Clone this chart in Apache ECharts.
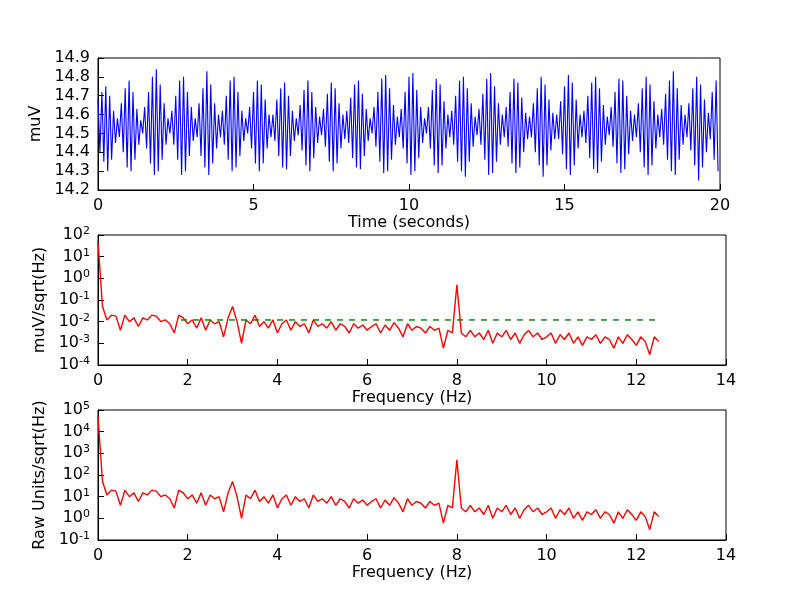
<!DOCTYPE html>
<html><head><meta charset="utf-8">
<script src="https://cdn.jsdelivr.net/npm/echarts@6/dist/echarts.min.js"></script>
<style>html,body{margin:0;background:#fff}#c{width:800px;height:600px}</style>
</head><body><div id="c"></div>
<script>
// Time series: samples every 1/16 s (alternating crest/trough), 20 s
const timeStep = 1/16;
const signal = [
14.68,14.40,14.72,14.35,14.75,14.30,14.70,14.36,14.62,14.45,14.58,14.48,14.66,14.40,14.74,14.32,
14.78,14.30,14.72,14.36,14.63,14.44,14.57,14.50,14.64,14.42,14.72,14.34,14.80,14.28,14.84,14.30,
14.76,14.36,14.66,14.44,14.58,14.50,14.62,14.44,14.70,14.36,14.78,14.28,14.80,14.30,14.72,14.38,
14.64,14.46,14.58,14.48,14.66,14.38,14.74,14.32,14.83,14.28,14.76,14.34,14.66,14.42,14.60,14.48,
14.62,14.44,14.70,14.36,14.78,14.30,14.80,14.32,14.72,14.38,14.62,14.46,14.58,14.50,14.64,14.42,
14.72,14.34,14.78,14.30,14.76,14.34,14.68,14.42,14.60,14.48,14.60,14.46,14.68,14.38,14.74,14.32,
14.77,14.31,14.70,14.38,14.62,14.46,14.58,14.49,14.65,14.41,14.73,14.33,14.78,14.30,14.72,14.37,
14.64,14.45,14.59,14.49,14.63,14.43,14.71,14.35,14.77,14.30,14.74,14.34,14.66,14.42,14.60,14.47,
14.62,14.45,14.69,14.37,14.76,14.32,14.78,14.31,14.71,14.38,14.63,14.46,14.58,14.50,14.64,14.43,
14.72,14.35,14.79,14.29,14.81,14.30,14.74,14.36,14.65,14.44,14.59,14.48,14.63,14.42,14.72,14.34,
14.80,14.28,14.82,14.30,14.73,14.37,14.64,14.45,14.58,14.50,14.64,14.42,14.73,14.33,14.79,14.29,
14.76,14.33,14.67,14.42,14.60,14.48,14.62,14.44,14.70,14.35,14.78,14.30,14.80,14.27,14.74,14.35,
14.66,14.43,14.59,14.49,14.63,14.44,14.71,14.36,14.79,14.28,14.82,14.29,14.75,14.35,14.66,14.44,
14.60,14.48,14.64,14.43,14.72,14.34,14.79,14.29,14.77,14.32,14.69,14.40,14.61,14.47,14.59,14.48,
14.66,14.40,14.74,14.33,14.80,14.27,14.76,14.33,14.68,14.41,14.61,14.47,14.60,14.47,14.67,14.39,
14.75,14.31,14.81,14.28,14.77,14.33,14.68,14.42,14.60,14.48,14.62,14.45,14.70,14.37,14.77,14.31,
14.80,14.29,14.74,14.35,14.65,14.44,14.59,14.49,14.64,14.43,14.72,14.34,14.79,14.29,14.78,14.31,
14.70,14.39,14.62,14.46,14.60,14.48,14.66,14.40,14.74,14.32,14.80,14.28,14.76,14.33,14.67,14.42,
14.60,14.48,14.63,14.44,14.71,14.36,14.78,14.30,14.83,14.28,14.74,14.36,14.65,14.44,14.60,14.48,
14.66,14.41,14.74,14.33,14.80,14.25,14.76,14.32,14.68,14.40,14.61,14.47,14.72,14.36,14.78,14.30
];
// Spectrum: frequencies 0..12.5 step 0.1
const freqStep = 0.1;
const spectrum = [
50,0.05,0.012,0.02,0.018,0.004,0.02,0.01,0.015,0.006,
0.015,0.012,0.02,0.018,0.01,0.012,0.008,0.003,0.02,0.015,
0.008,0.012,0.005,0.015,0.004,0.012,0.008,0.01,0.002,0.015,
0.05,0.01,0.001,0.012,0.008,0.02,0.006,0.01,0.005,0.012,
0.003,0.008,0.012,0.004,0.01,0.006,0.008,0.003,0.012,0.006,
0.008,0.005,0.01,0.004,0.008,0.006,0.003,0.008,0.005,0.007,
0.004,0.006,0.008,0.003,0.007,0.004,0.009,0.005,0.002,0.008,
0.004,0.006,0.005,0.003,0.006,0.004,0.005,0.0006,0.004,0.003,
0.5,0.003,0.002,0.004,0.002,0.003,0.0015,0.004,0.001,0.003,
0.002,0.004,0.0015,0.003,0.001,0.0025,0.004,0.002,0.003,0.0015,
0.002,0.003,0.001,0.0025,0.0015,0.003,0.001,0.002,0.0008,0.002,
0.0015,0.0025,0.001,0.002,0.0015,0.0006,0.002,0.001,0.0025,0.0015,
0.0008,0.002,0.0012,0.0003,0.002,0.0012
];
const rawScale = 1000; // muV -> raw units
const noiseLevel = 0.012, noiseStart = 1.85, noiseEnd = 12.5;

const sig = signal.map((v,i)=>[i*timeStep,v]);
const sp = spectrum.map((v,i)=>[+(i*freqStep).toFixed(2),v]);
const spRaw = spectrum.map((v,i)=>[+(i*freqStep).toFixed(2),v*rawScale]);

const font = {fontFamily:'DejaVu Sans',fontSize:16,color:'#000'};
const supFmt = v => { const e=Math.round(Math.log10(v)); return '10{s|'+e+'}'; };
const rich = {s:{fontFamily:'DejaVu Sans',fontSize:11,color:'#000',verticalAlign:'top',padding:[0,0,8,0]}};
const tick = {show:true,inside:true,length:6,lineStyle:{color:'#000'}};
const line = {show:true,lineStyle:{color:'#000',width:1}};
function xAx(i,max,interval,name){return {gridIndex:i,type:'value',min:0,max,interval,name,nameLocation:'middle',nameGap:24,nameTextStyle:font,axisLabel:Object.assign({},font,{margin:8}),axisTick:tick,axisLine:line,splitLine:{show:false}};}
const opt = {
  animation:false,
  grid:[
    {left:98,right:80,top:58,height:132,show:true,borderColor:'#000',borderWidth:1},
    {left:98,right:74,top:235,height:130,show:true,borderColor:'#000',borderWidth:1},
    {left:98,right:74,top:410,height:130,show:true,borderColor:'#000',borderWidth:1}
  ],
  xAxis:[xAx(0,20,5,'Time (seconds)'),xAx(1,14,2,'Frequency (Hz)'),xAx(2,14,2,'Frequency (Hz)')],
  yAxis:[
    {gridIndex:0,type:'value',min:14.2,max:14.9,interval:0.1,name:'muV',nameLocation:'middle',nameGap:46,nameTextStyle:font,axisLabel:Object.assign({},font,{formatter:v=>v.toFixed(1)}),axisTick:tick,axisLine:line,splitLine:{show:false}},
    {gridIndex:1,type:'log',logBase:10,min:1e-4,max:1e2,name:'muV/sqrt(Hz)',nameLocation:'middle',nameGap:46,nameTextStyle:font,axisLabel:Object.assign({},font,{formatter:supFmt,rich}),axisTick:tick,axisLine:line,splitLine:{show:false}},
    {gridIndex:2,type:'log',logBase:10,min:1e-1,max:1e5,name:'Raw Units/sqrt(Hz)',nameLocation:'middle',nameGap:46,nameTextStyle:font,axisLabel:Object.assign({},font,{formatter:supFmt,rich}),axisTick:tick,axisLine:line,splitLine:{show:false}}
  ],
  series:[
    {type:'line',xAxisIndex:0,yAxisIndex:0,data:sig,showSymbol:false,lineStyle:{color:'#0000ff',width:1.1}},
    {type:'line',xAxisIndex:1,yAxisIndex:1,data:sp,showSymbol:false,lineStyle:{color:'#ff0000',width:1.4}},
    {type:'line',xAxisIndex:1,yAxisIndex:1,data:[[noiseStart,noiseLevel],[noiseEnd,noiseLevel]],showSymbol:false,lineStyle:{color:'#008000',width:1.4,type:[6,6]}},
    {type:'line',xAxisIndex:2,yAxisIndex:2,data:spRaw,showSymbol:false,lineStyle:{color:'#ff0000',width:1.4}}
  ]
};
echarts.init(document.getElementById('c')).setOption(opt);
</script></body></html>
